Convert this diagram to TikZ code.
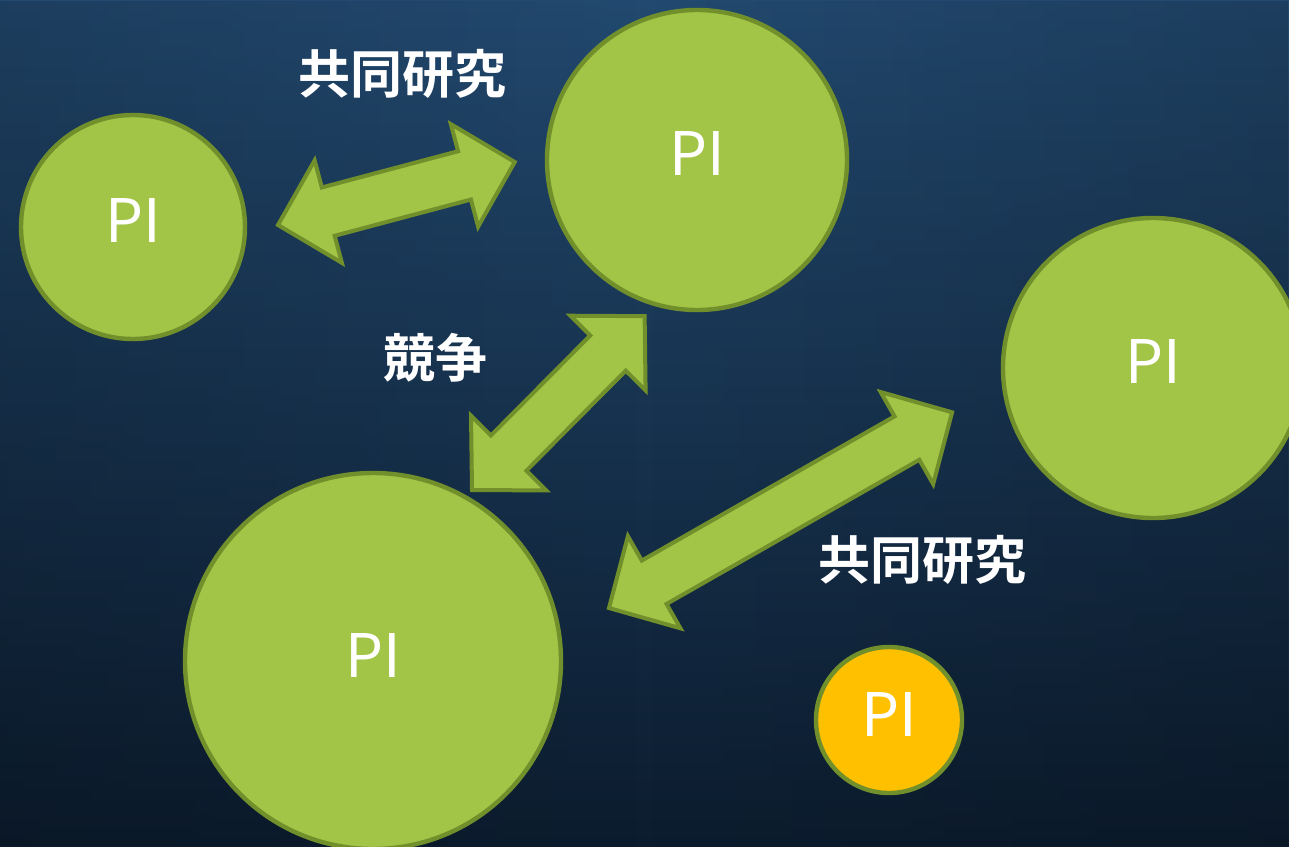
\documentclass[tikz,border=0pt]{standalone}
\usepackage{fontspec}
\usetikzlibrary{fadings}
\newfontfamily\cjk{Noto Sans CJK JP}[BoldFont={Noto Sans CJK JP Bold}]
\definecolor{pigreen}{HTML}{A2C547}
\definecolor{piedge}{HTML}{71902C}
\definecolor{piorange}{HTML}{FFC000}
\definecolor{bgTop}{HTML}{22496F}
\definecolor{bgMid}{HTML}{173654}
\definecolor{bgBot}{HTML}{0C1C2E}
\tikzfading[name=sidefade, left color=transparent!0, right color=transparent!0, middle color=transparent!100]
\newcommand\pitext{\raisebox{3pt}[\height][\depth]{PI}}
\newcommand\dblarrow[4]{%
  \begin{scope}[shift={#2},rotate=#3]
    \coordinate (#1-a) at (0,0);
    \coordinate (#1-b) at (#4,0);
    \draw[arr] (#1-a) -- (52,53) -- (52,25) -- ({#4-52},25) -- ({#4-52},53) -- (#1-b)
      -- ({#4-52},-53) -- ({#4-52},-25) -- (52,-25) -- (52,-53) -- cycle;
  \end{scope}}
\begin{document}
\begin{tikzpicture}[x=0.5pt,y=-0.5pt,
  pi/.style={circle, draw=piedge, line width=2.2pt, fill=pigreen, text=white,
    font=\cjk\fontsize{30}{30}\selectfont, inner sep=0pt},
  lbl/.style={text=white, font=\cjk\bfseries\fontsize{26}{26}\selectfont, inner sep=0pt},
  arr/.style={fill=pigreen, draw=piedge, line width=2pt, line join=miter}]
\useasboundingbox (0,0) rectangle (1289,846);
\clip (0,0) rectangle (1289,846);
\shade[top color=bgTop, middle color=bgMid, bottom color=bgBot] (0,0) rectangle (1289,846);
\fill[black, opacity=0.15, path fading=sidefade] (0,0) rectangle (1289,846);

\node[pi, minimum size=112pt] (p1) at (133,227) {\pitext};
\node[pi, minimum size=150pt] (p2) at (697,160) {\pitext};
\node[pi, minimum size=150pt] (p3) at (1153,368) {\pitext};
\node[pi, minimum size=188pt] (p4) at (373,661) {\pitext};
\node[pi, minimum size=73pt, fill=piorange] (p5) at (889,720) {\pitext};

\dblarrow{a1}{(278,225)}{14.9}{245}
\dblarrow{a2}{(472,490)}{45.2}{245}
\dblarrow{a3}{(609,608)}{29.7}{395}

\node[lbl] (l1) at (402,74) {共同研究};
\node[lbl] (l2) at (435,358) {競争};
\node[lbl] (l3) at (922,560) {共同研究};
\end{tikzpicture}
\end{document}
